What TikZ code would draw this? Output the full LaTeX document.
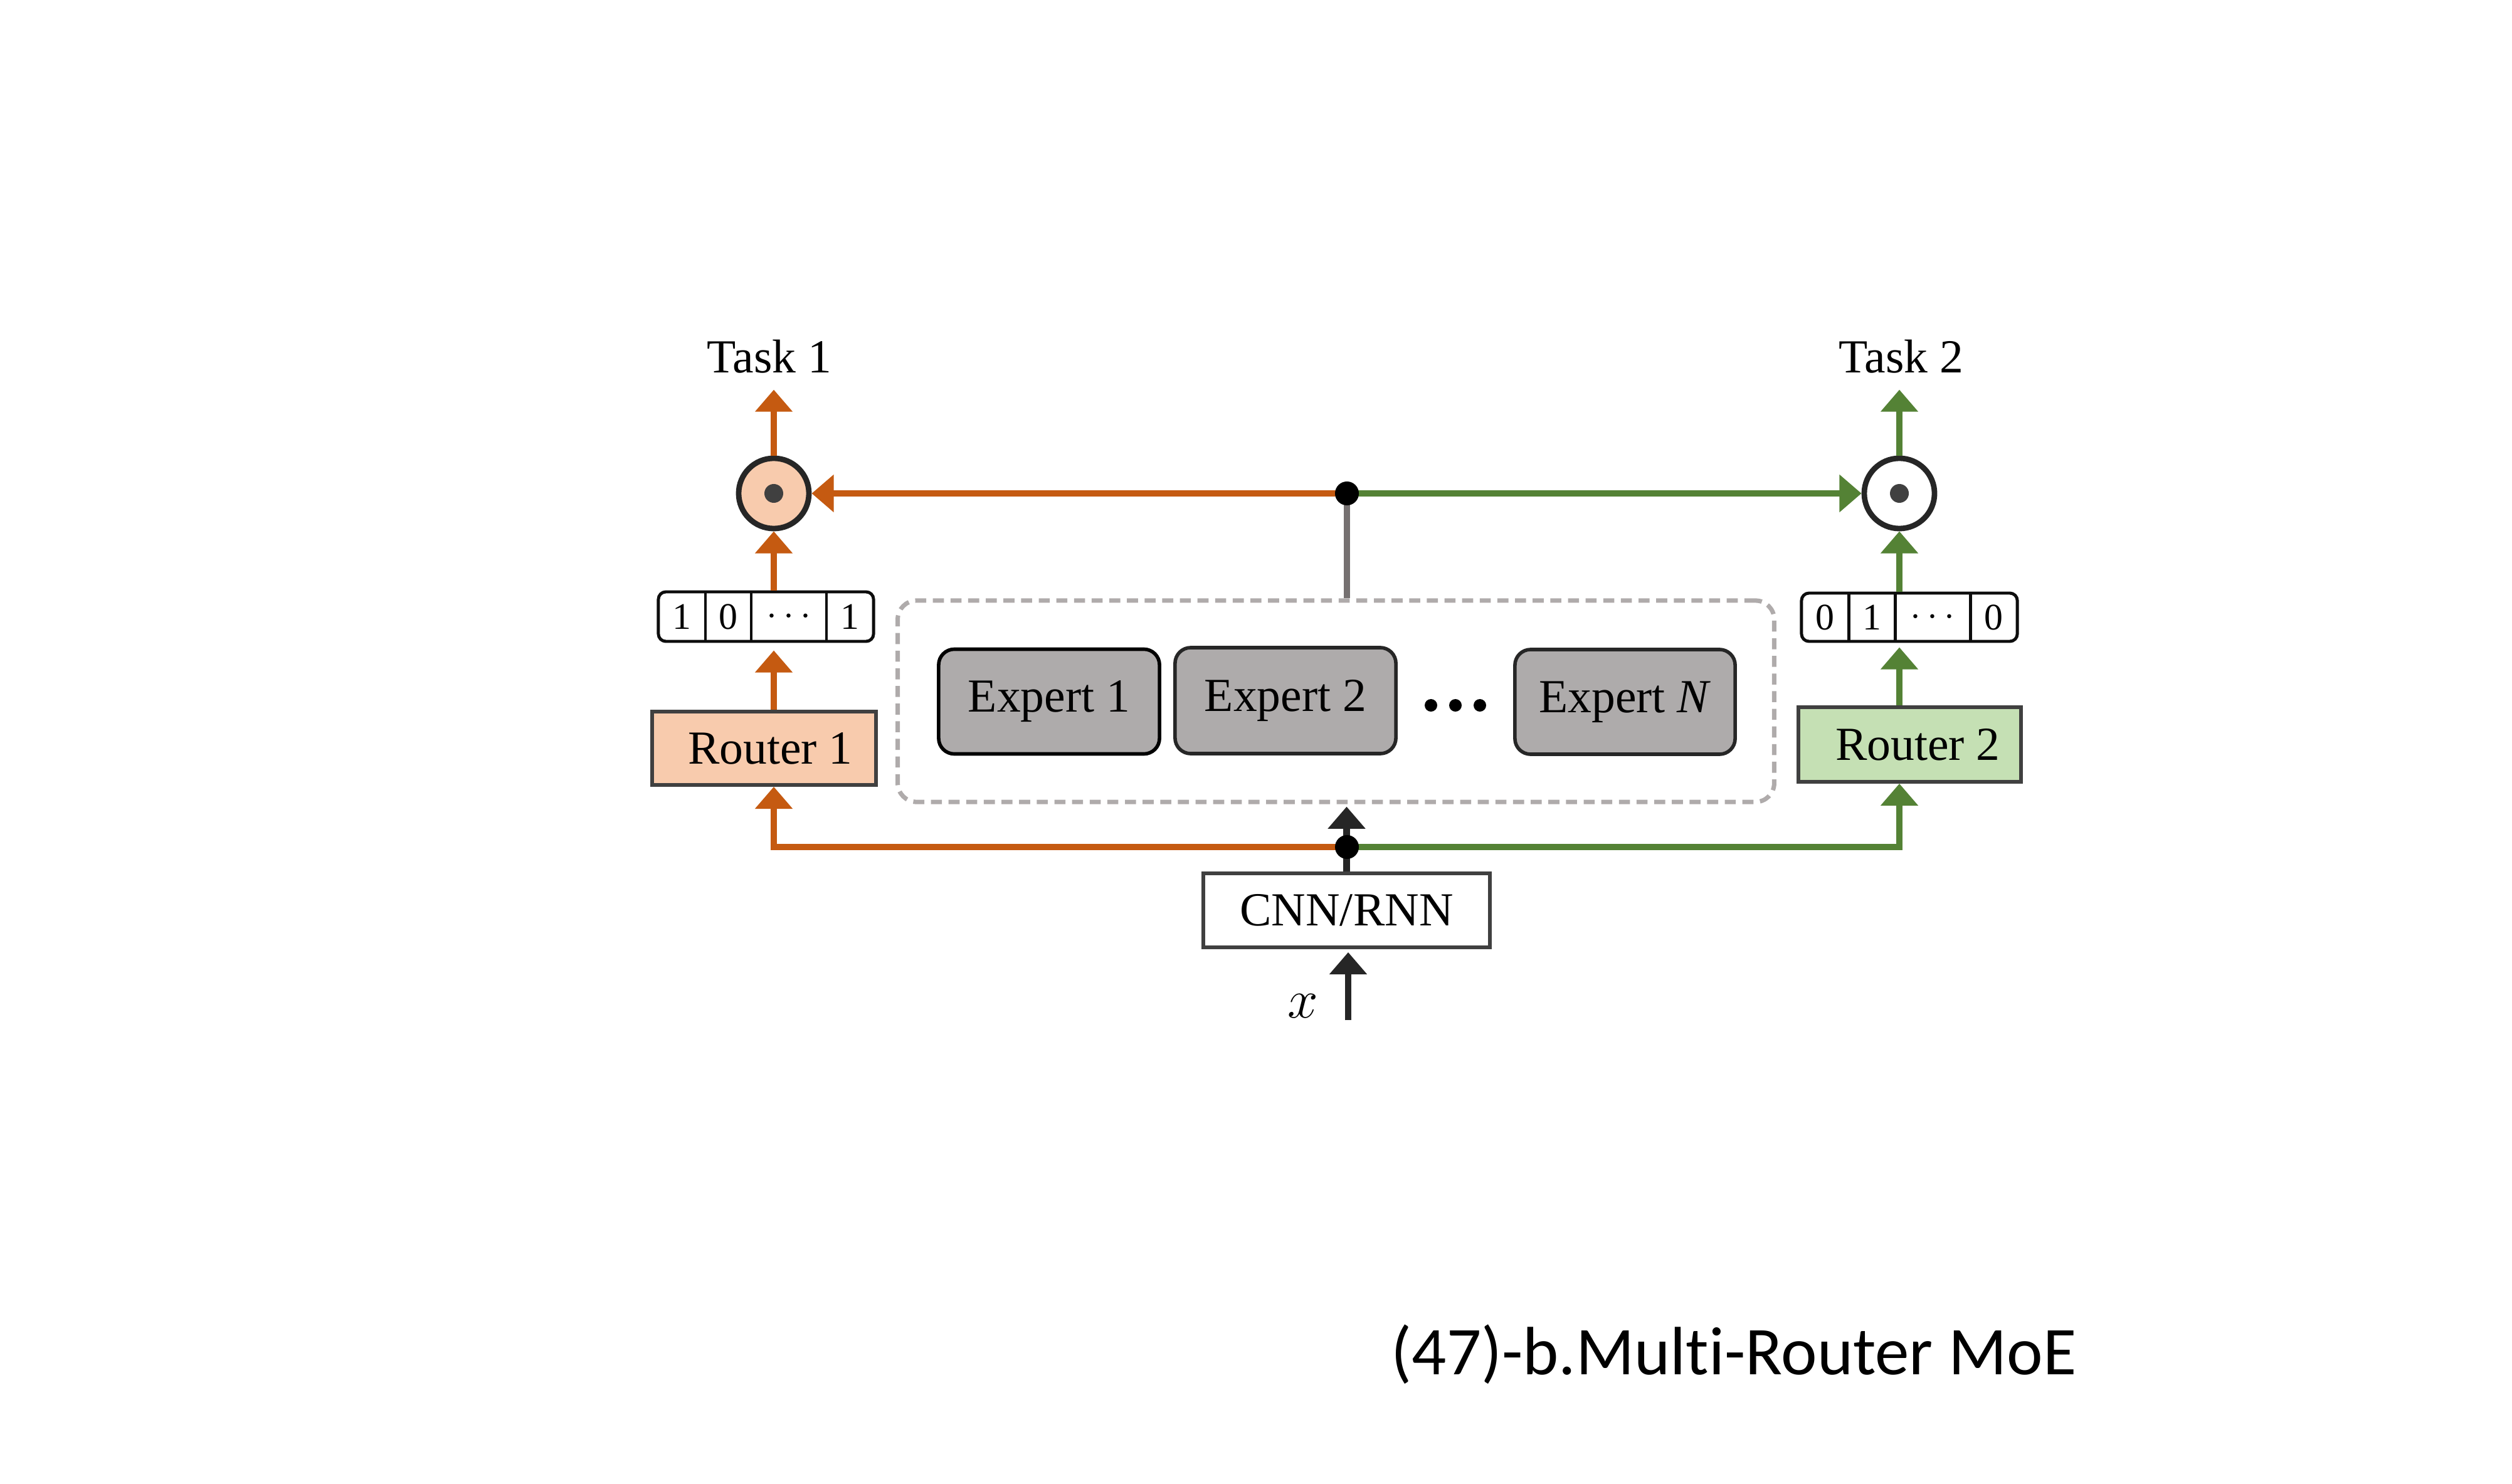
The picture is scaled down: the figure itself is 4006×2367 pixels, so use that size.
\documentclass[tikz,border=0pt]{standalone}
\usepackage{fontspec}
\setmainfont{Liberation Serif}
\newfontfamily\capfont[Ligatures={NoCommon,NoRare,NoContextual}]{Carlito}
\usetikzlibrary{arrows.meta,calc}
\definecolor{corange}{HTML}{C55A11}
\definecolor{cgreen}{HTML}{548235}
\definecolor{lorange}{HTML}{F8CBAD}
\definecolor{lgreen}{HTML}{C5E0B4}
\definecolor{expgray}{HTML}{AEABAB}
\definecolor{dashgray}{HTML}{AFABAB}
\definecolor{linegray}{HTML}{767171}
\definecolor{darkline}{HTML}{262626}
\definecolor{boxline}{HTML}{404040}
\begin{document}
\begin{tikzpicture}[x=0.01cm,y=-0.01cm,
  txt/.style={font=\fontsize{21.5pt}{25pt}\selectfont},
  digit/.style={font=\fontsize{17pt}{20pt}\selectfont, inner sep=0pt},
  routerbox/.style={draw=boxline, line width=1.6pt, inner sep=0pt, txt},
  vecbox/.style={draw=black!95, line width=1.4pt, rounded corners=0.12cm, inner sep=0pt, fill=white},
  vecdiv/.style={draw=black!95, line width=1.4pt},
  prodcirc/.style={circle, draw=darkline, line width=2.5pt, minimum size=1.12cm, inner sep=0pt},
  proddot/.style={circle, fill=boxline, minimum size=0.3cm, inner sep=0pt},
  expertbox/.style={draw=darkline, fill=expgray, line width=1.6pt, rounded corners=0.25cm, inner sep=0pt, txt},
  dashbox/.style={draw=dashgray, dash pattern=on 5pt off 3pt, line width=2pt, rounded corners=0.3cm, inner sep=0pt},
  jdot/.style={circle, fill=black, minimum size=0.38cm, inner sep=0pt},
  edot/.style={circle, fill=black, minimum size=0.2cm, inner sep=0pt},
  tip/.style={-{Triangle[width=16.5pt,length=10pt]}},
  oarrow/.style={draw=corange, line width=3pt, tip},
  garrow/.style={draw=cgreen, line width=3pt, tip},
  karrow/.style={draw=darkline, line width=3pt, tip},
]
\useasboundingbox (0,0) rectangle (4006,2367);

% task labels
\node[txt, anchor=base, inner sep=0pt] (task1) at (1227,594) {Task 1};
\node[txt, anchor=base, inner sep=0pt] (task2) at (3032,594) {Task 2};

% product circles
\node[prodcirc, fill=lorange] (c1) at (1234,787) {};
\node[proddot] at (c1) {};
\node[prodcirc, fill=white] (c2) at (3029,787) {};
\node[proddot] at (c2) {};

% vectors
\node[vecbox, minimum width=3.43cm, minimum height=0.79cm] (v1) at (1221.5,983.5) {};
\draw[vecdiv] (1125,944) -- (1125,1023);
\draw[vecdiv] (1198,944) -- (1198,1023);
\draw[vecdiv] (1318,944) -- (1318,1023);
\node[digit] (v1a) at (1087.5,983.5) {1};
\node[digit] (v1b) at (1161.5,983.5) {0};
\node[digit] (v1c) at (1258,983.5) {$\cdots$};
\node[digit] (v1d) at (1355.5,983.5) {1};

\node[vecbox, minimum width=3.44cm, minimum height=0.77cm] (v2) at (3045,984.5) {};
\draw[vecdiv] (2948,946) -- (2948,1023);
\draw[vecdiv] (3022,946) -- (3022,1023);
\draw[vecdiv] (3142,946) -- (3142,1023);
\node[digit] (v2a) at (2910.5,984.5) {0};
\node[digit] (v2b) at (2985,984.5) {1};
\node[digit] (v2c) at (3082,984.5) {$\cdots$};
\node[digit] (v2d) at (3179.5,984.5) {0};

% routers
\node[routerbox, fill=lorange, minimum width=3.57cm, minimum height=1.17cm] (r1) at (1218.5,1193.5) {\hspace*{0.2cm}Router 1};
\node[routerbox, fill=lgreen, minimum width=3.55cm, minimum height=1.19cm] (r2) at (3045.5,1187.5) {\hspace*{0.26cm}Router 2};

% experts
\node[dashbox, minimum width=13.97cm, minimum height=3.21cm] (dbox) at (2130.5,1118.5) {};
\node[expertbox, draw=black, minimum width=3.52cm, minimum height=1.67cm] (e1) at (1673,1119) {Expert 1};
\node[expertbox, minimum width=3.52cm, minimum height=1.69cm] (e2) at (2050,1117.5) {Expert 2};
\node[expertbox, minimum width=3.51cm, minimum height=1.67cm] (eN) at (2591.5,1119.5) {Expert \textit{N}};
\node[edot] (d1) at (2282,1125) {};
\node[edot] (d2) at (2321,1125) {};
\node[edot] (d3) at (2360,1125) {};

% cnn
\node[draw=boxline, line width=1.6pt, fill=white, inner sep=0pt, minimum width=4.57cm, minimum height=1.18cm, txt] (cnn) at (2147.5,1452) {CNN/RNN};
\coordinate (xin) at (2150,1627);
\node[font=\fontsize{24pt}{28pt}\selectfont, inner sep=0pt] (xlab) at (2078,1605) {$x$};

% junctions
\coordinate (j1) at (2148,787);
\coordinate (j2) at (2148,1351);

% connectors
\draw[oarrow] (c1.north) -- ++(0,-105);
\draw[garrow] (c2.north) -- ++(0,-105);
\draw[oarrow] (v1.north -| c1) -- (c1.south);
\draw[garrow] (v2.north -| c2) -- (c2.south);
\draw[oarrow, shorten >=0.12cm] (r1.north -| c1) -- (v1.south -| c1);
\draw[garrow, shorten >=0.07cm] (r2.north -| c2) -- (v2.south -| c2);
\draw[linegray, line width=3pt] (j1) -- (j1 |- dbox.north);
\draw[oarrow] (j1) -- (c1.east);
\draw[garrow] (j1) -- (c2.west);
\draw[karrow, shorten >=0.04cm] (cnn.north) -- (cnn.north |- dbox.south);
\draw[oarrow] (j2) -| (c1 |- r1.south);
\draw[garrow] (j2) -| (c2 |- r2.south);
\draw[karrow, shorten >=0.05cm] (xin) -- (xin |- cnn.south);

\node[jdot] (j1dot) at (j1) {};
\node[jdot] (j2dot) at (j2) {};

% caption
\node[font=\capfont\fontsize{31pt}{36pt}\selectfont, anchor=base west, inner sep=0pt] (cap) at (2218,2192) {(47)-b.Multi-Router MoE};
\end{tikzpicture}
\end{document}
